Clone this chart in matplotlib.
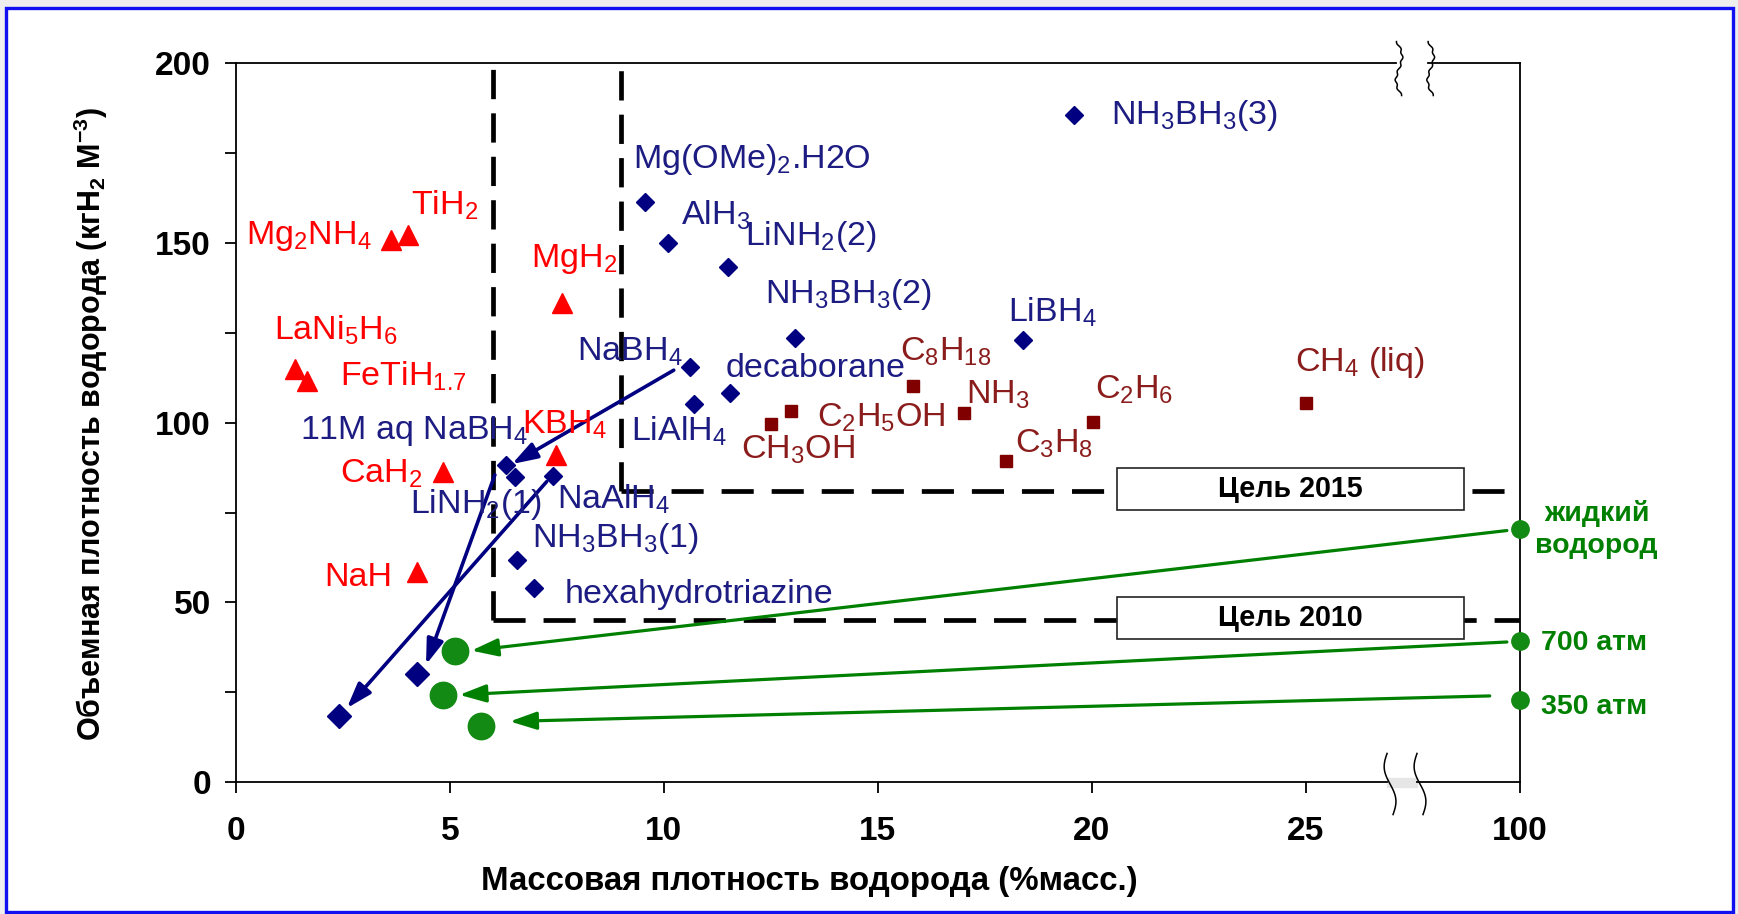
import numpy as np
import matplotlib
matplotlib.use('Agg')
import matplotlib.pyplot as plt
from matplotlib.patches import Rectangle

# ---------------- data ----------------
hydride_names = ['Mg$_2$NH$_4$', 'TiH$_2$', 'MgH$_2$', 'LaNi$_5$H$_6$', 'FeTiH$_{1.7}$',
                 'KBH$_4$', 'CaH$_2$', 'NaH']
hydride_x = [3.63, 4.02, 7.62, 1.37, 1.66, 7.48, 4.83, 4.22]
hydride_y = [150.7, 152.2, 133.4, 115.0, 111.6, 91.1, 86.2, 58.6]

chem_names = ['NH$_3$BH$_3$(3)', 'Mg(OMe)$_2$.H2O', 'AlH$_3$', 'LiNH$_2$(2)', 'NH$_3$BH$_3$(2)',
              'LiBH$_4$', 'NaBH$_4$', 'decaborane', 'LiAlH$_4$', '11M aq NaBH$_4$',
              'LiNH$_2$(1)', 'NaAlH$_4$', 'NH$_3$BH$_3$(1)', 'hexahydrotriazine']
chem_x = [19.59, 9.56, 10.10, 11.50, 13.06, 18.39, 10.60, 11.55, 10.70, 6.32, 6.52, 7.41, 6.56, 6.97]
chem_y = [185.5, 161.5, 150.1, 143.3, 123.6, 123.0, 115.6, 108.2, 105.1, 88.3, 85.0, 85.2, 61.9, 54.0]

system_x = [2.41, 4.22]
system_y = [18.3, 30.2]

fuel_names = ['CH$_3$OH', 'C$_2$H$_5$OH', 'C$_8$H$_{18}$', 'NH$_3$', 'C$_2$H$_6$', 'C$_3$H$_8$', 'CH$_4$ (liq)']
fuel_x = [12.51, 12.98, 15.83, 17.02, 20.03, 18.00, 25.00]
fuel_y = [99.5, 103.2, 110.3, 102.6, 100.2, 89.4, 105.4]

tank_x = [5.12, 4.83, 5.73]
tank_y = [36.4, 24.3, 15.5]
pure_names = ['жидкий\nводород', '700 атм', '350 атм']
pure_x = [30, 30, 30]
pure_y = [70.3, 39.4, 22.8]

# arrows: (start) -> (end)
navy_arrow_start = [(10.23, 114.6), (6.05, 85.5), (7.26, 83.6)]
navy_arrow_end = [(6.45, 88.5), (4.44, 32.7), (2.59, 20.6)]
green_arrow_start = [(29.7, 70.0), (29.7, 39.0), (29.3, 24.0)]
green_arrow_end = [(5.50, 36.6), (5.22, 24.3), (6.40, 16.9)]

target_names = ['Цель 2015', 'Цель 2010']
target_wt = [9, 6]
target_vol = [81, 45]

xtick_pos = [0, 5, 10, 15, 20, 25, 30]
xtick_labels = ['0', '5', '10', '15', '20', '25', '100']
ytick_pos = [0, 25, 50, 75, 100, 125, 150, 175, 200]
ytick_labels = ['0', '', '50', '', '100', '', '150', '', '200']

# ---------------- label positions (left x, baseline y) ----------------
hydride_lab = [(0.23, 149.7), (4.09, 157.8), (6.89, 143.3), (0.88, 123.2), (2.44, 110.3),
               (6.68, 97.1), (2.44, 83.2), (2.07, 54.5)]
chem_lab = [(20.44, 183.0), (9.27, 170.7), (10.39, 155.0), (11.89, 149.4), (12.36, 133.4),
            (18.03, 128.0), (7.98, 117.4), (11.45, 112.8), (9.22, 94.9), (1.50, 95.5),
            (4.07, 74.9), (7.51, 76.1), (6.92, 65.3), (7.69, 49.9)]
fuel_lab = [(11.81, 90.0), (13.58, 98.9), (15.52, 117.4), (17.05, 105.4), (20.08, 106.6),
            (18.21, 91.8), (24.74, 114.3)]
pure_lab = [(31.8, 70.3), (30.5, 38.8), (30.5, 21.0)]

RED = '#FF0000'
NAVY = '#000080'
NAVY_T = '#1C1C82'
BROWN = '#800000'
BROWN_T = '#8B1C1C'
GREEN = '#008000'
GREEN_M = '#138A13'

plt.rcParams['font.family'] = ['Liberation Sans', 'DejaVu Sans']
plt.rcParams['mathtext.default'] = 'regular'

fig = plt.figure(figsize=(17.38, 9.14), dpi=100, facecolor='#efefef')
# white panel with blue border
fig.patches.append(Rectangle((0.0033, 0.0025), 0.9936, 0.9885, transform=fig.transFigure,
                             facecolor='white', edgecolor='#1010F0', lw=2.4, zorder=-10))

ax = fig.add_axes([0.1358, 0.1442, 0.7386, 0.7867])
ax.set_facecolor('none')
ax.set_xlim(0, 30)
ax.set_ylim(0, 200)
for s in ['top', 'bottom']:
    ax.spines[s].set_visible(False)
ax.spines['left'].set_linewidth(1.3)
ax.spines['right'].set_linewidth(1.3)

# axis frame lines with breaks
brk_top = (27.12, 27.86)
brk_bot = (26.90, 27.60)
ax.plot([0, brk_top[0]], [200, 200], color='black', lw=1.3, clip_on=False, zorder=3)
ax.plot([brk_top[1], 30], [200, 200], color='black', lw=1.3, clip_on=False, zorder=3)
ax.plot([0, brk_bot[0]], [0, 0], color='black', lw=1.3, clip_on=False, zorder=3)
ax.plot([brk_bot[1], 30], [0, 0], color='black', lw=1.3, clip_on=False, zorder=3)
ax.fill_between([brk_bot[0], brk_bot[1]], -1.2, 1.2, color='#e6e6e6', clip_on=False, zorder=2)
t = np.linspace(0, 1, 60)
for xb in brk_top:
    yy = 206 - 15 * t
    xx = xb + 0.10 * np.sin(2 * np.pi * t) + 0.12 * t - 0.02 * np.sin(12 * np.pi * t)
    ax.plot(xx, yy, color='black', lw=1.1, clip_on=False, zorder=4)
for xb in brk_bot:
    yy = 8 - 17 * t
    xx = xb + 0.10 * np.sin(2 * np.pi * t + np.pi) + 0.14 * t
    ax.plot(xx, yy, color='black', lw=1.1, clip_on=False, zorder=4)

ax.set_xticks(xtick_pos)
ax.set_xticklabels(xtick_labels)
ax.set_yticks(ytick_pos)
ax.set_yticklabels(ytick_labels)
ax.tick_params(axis='x', direction='out', length=8, width=1.3, pad=16, labelsize=24)
ax.tick_params(axis='y', direction='out', length=8, width=1.3, pad=10, labelsize=24)
for lab in ax.get_xticklabels() + ax.get_yticklabels():
    lab.set_fontweight('bold')

# target dashed lines and boxes
for name, wt, vol in zip(target_names, target_wt, target_vol):
    ax.plot([wt, wt], [vol, 198.5], color='black', lw=3.4, dashes=(6.2, 3.0), zorder=2)
    ax.plot([wt, 30], [vol, vol], color='black', lw=3.4, dashes=(6.8, 3.8), zorder=2)
    ax.add_patch(Rectangle((20.6, vol - 5.2), 8.1, 11.7, facecolor='white', edgecolor='#222222',
                           lw=1.2, zorder=3))
    ax.text(24.65, vol + 0.6, name, ha='center', va='center', fontsize=20.6, fontweight='bold',
            zorder=4)

# arrows
for (x0, y0), (x1, y1) in zip(green_arrow_start, green_arrow_end):
    ax.annotate('', xy=(x1, y1), xytext=(x0, y0),
                arrowprops=dict(arrowstyle='-|>,head_length=0.9,head_width=0.3', color=GREEN,
                                lw=2.3, mutation_scale=18, shrinkA=0, shrinkB=0), zorder=3)
for (x0, y0), (x1, y1) in zip(navy_arrow_start, navy_arrow_end):
    ax.annotate('', xy=(x1, y1), xytext=(x0, y0),
                arrowprops=dict(arrowstyle='-|>,head_length=0.9,head_width=0.3', color=NAVY,
                                lw=2.6, mutation_scale=17, shrinkA=0, shrinkB=0), zorder=5)

# markers
ax.plot(hydride_x, hydride_y, linestyle='none', marker='^', ms=14, color=RED, zorder=6)
ax.plot(chem_x, chem_y, linestyle='none', marker='D', ms=9, color=NAVY, zorder=6)
ax.plot(system_x, system_y, linestyle='none', marker='D', ms=12.5, color=NAVY, zorder=6)
ax.plot(fuel_x, fuel_y, linestyle='none', marker='s', ms=8.5, color=BROWN, zorder=6)
ax.plot(tank_x, tank_y, linestyle='none', marker='o', ms=19, color=GREEN_M, zorder=6)
ax.plot(pure_x, pure_y, linestyle='none', marker='o', ms=12.5, color=GREEN_M, zorder=7,
        clip_on=False)

# labels
LS = 24.5
for name, (lx, ly) in zip(hydride_names, hydride_lab):
    ax.text(lx, ly, name, color=RED, fontsize=LS, ha='left', va='baseline', zorder=7)
for name, (lx, ly) in zip(chem_names, chem_lab):
    ax.text(lx, ly, name, color=NAVY_T, fontsize=LS, ha='left', va='baseline', zorder=7)
for name, (lx, ly) in zip(fuel_names, fuel_lab):
    ax.text(lx, ly, name, color=BROWN_T, fontsize=LS, ha='left', va='baseline', zorder=7)
for i, (name, (lx, ly)) in enumerate(zip(pure_names, pure_lab)):
    ax.text(lx, ly, name, color=GREEN, fontsize=20.5, fontweight='bold',
            ha='center' if i == 0 else 'left', va='center', linespacing=1.3, clip_on=False,
            zorder=7)

# axis titles
fig.text(0.4656, 0.036, 'Массовая плотность водорода (%масс.)', ha='center', va='center',
         fontsize=23.8, fontweight='bold')
fig.text(0.052, 0.5365, 'Объемная плотность водорода (кгH$_2$ М$^{-3}$)', ha='center',
         va='center', rotation=90, fontsize=22, fontweight='bold')

fig.savefig('out.png', dpi=100, facecolor=fig.get_facecolor())
